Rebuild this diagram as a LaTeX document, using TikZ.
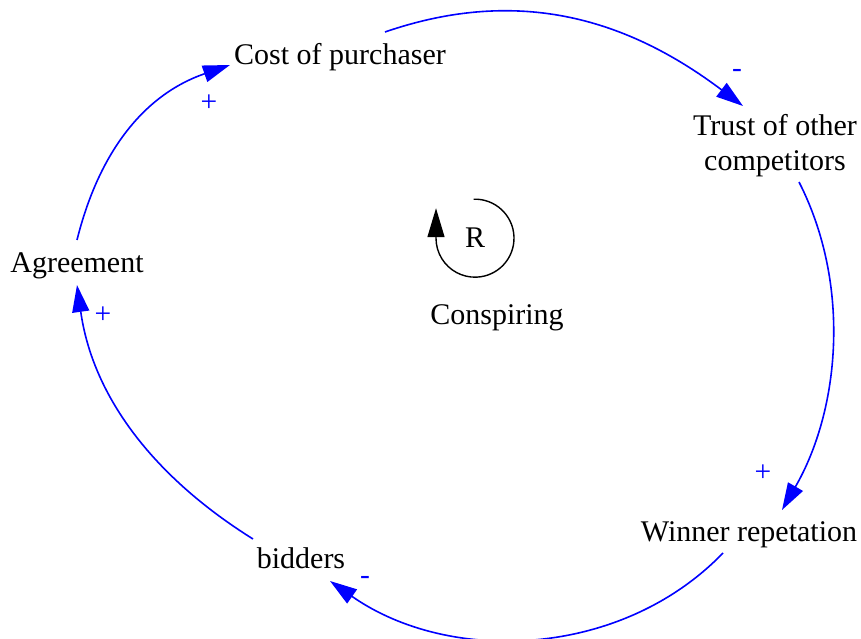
\documentclass[tikz,border=0pt]{standalone}
\usepackage{fontspec}
\setmainfont{Liberation Serif}
\usetikzlibrary{arrows.meta}
\tikzset{
  var/.style={font=\fontsize{30}{35}\selectfont, inner sep=0pt},
  sign/.style={text=blue, font=\fontsize{29.5}{35}\selectfont, inner sep=0pt},
  link/.style={draw=blue, line width=1.6pt, -{Triangle[length=27pt,width=17pt]}},
  loopline/.style={draw=black, line width=1.4pt, -{Triangle[length=29pt,width=17pt]}}
}
\begin{document}
\begin{tikzpicture}[x=1pt,y=1pt]
  \useasboundingbox (0,0) rectangle (861,638);
  % Variables
  \node[var,anchor=base] (cost) at (340,573) {Cost of purchaser};
  \node[var,align=center] (trust) at (775,492) {Trust of other\\competitors};
  \node[var,anchor=base] (agree) at (77,366) {Agreement};
  \node[var,anchor=base] (winner) at (749,97) {Winner repetation};
  \node[var,anchor=base] (bidders) at (301,70) {bidders};

  % Loop
  \node[var,anchor=base] (R) at (475,390) {R};
  \node[var,anchor=base] (consp) at (497,314) {Conspiring};
  \draw[loopline] ([shift={(92:39)}]R.center) arc[start angle=92,end angle=-180,radius=39] -- ++(0,30);

  % Links
  \draw[link] ([shift={(45,33)}]cost.base) to[out=19,in=143] ([shift={(-32,40)}]trust.center);
  \draw[link] ([shift={(24,-36)}]trust.center) to[out=-63,in=60,looseness=0.9] ([shift={(33,31)}]winner.base);
  \draw[link] ([shift={(-26,-12)}]winner.base) to[out=-134,in=-35,looseness=0.95] ([shift={(29,-13)}]bidders.base);
  \draw[link] ([shift={(-48,29)}]bidders.base) to[out=148,in=-82,looseness=0.95] ([shift={(0,-13)}]agree.base);
  \draw[link] ([shift={(0,32)}]agree.base) to[out=76,in=-161] ([shift={(-110,0)}]cost.base);

  % Polarities
  \node[sign] (s1) at (209,535) {+};
  \node[sign] (s2) at (737,565) {-};
  \node[sign] (s3) at (763,165) {+};
  \node[sign] (s4) at (365,58) {-};
  \node[sign] (s5) at (103,323) {+};
\end{tikzpicture}
\end{document}
